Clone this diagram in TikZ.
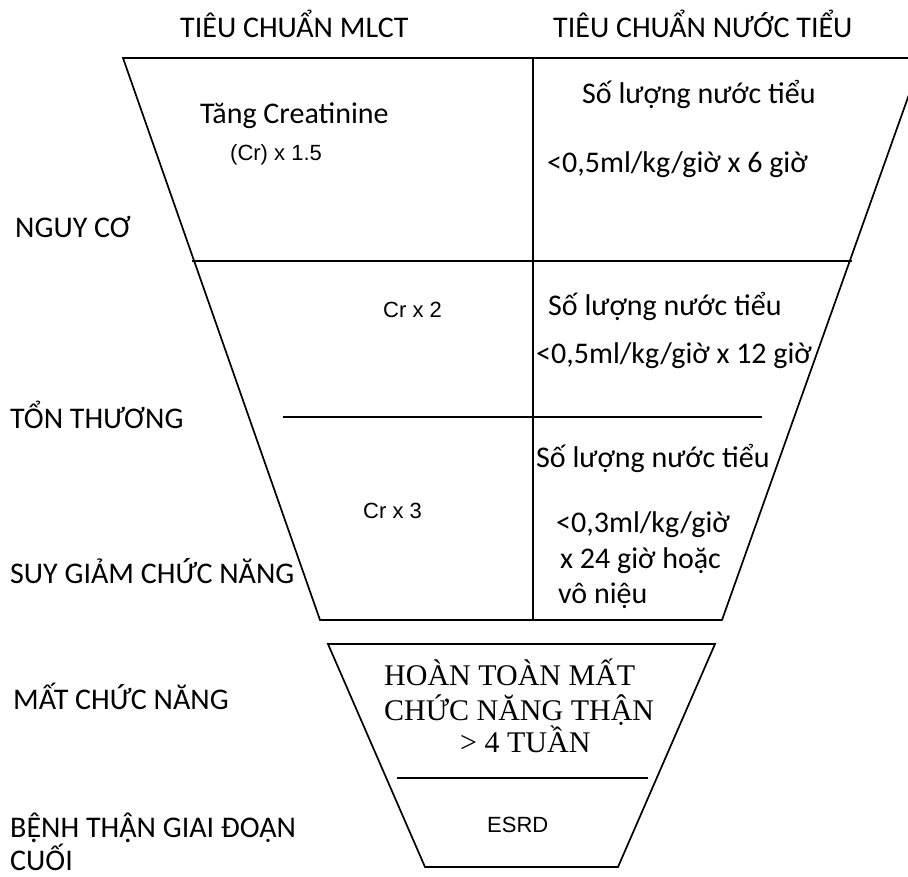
\documentclass[tikz,border=0pt]{standalone}
\usepackage{fontspec}
\setmainfont{Carlito}
\newfontfamily\arialfont{Liberation Sans}
\newfontfamily\timesfont{Liberation Serif}
\newcommand{\dotunder}[1]{\ooalign{#1\cr\hidewidth\raisebox{-0.17em}{.}\hidewidth\cr}}
\begin{document}
\begin{tikzpicture}[x=1pt,y=-1pt,
        txt/.style={anchor=base west,inner sep=0pt,font=\fontsize{30}{36}\selectfont},
        small/.style={anchor=base west,inner sep=0pt,font=\arialfont\fontsize{22}{26}\selectfont},
        serif/.style={anchor=base west,inner sep=0pt,font=\timesfont\fontsize{30}{36}\selectfont},
        edge/.style={line width=1.7pt,line join=miter}]
            \clip (0,0) rectangle (908,876);

            % headers and stage names
            \node[txt] (hMLCT) at (180,37) {TIÊU CHUẨN MLCT};
            \node[txt] (hUrine) at (553,37) {TIÊU CHUẨN NƯỚC TIỂU};
            \node[txt] (risk) at (15,237) {NGUY CƠ};
            \node[txt] (injury) at (10,428) {TỔN THƯƠNG};
            \node[txt] (failure) at (10,583) {SUY GIẢM CHỨC NĂNG};
            \node[txt] (loss) at (13,709) {MẤT CHỨC NĂNG};
            \node[txt] (esrdA) at (10,837) {B\dotunder{Ê}NH TH\dotunder{Â}N GIAI ĐOẠN};
            \node[txt] (esrdB) at (10,870) {CUỐI};

            % upper funnel
            \coordinate (tl) at (123,58);
            \coordinate (tr) at (922,58);
            \coordinate (br) at (722,620);
            \coordinate (bl) at (320,620);
            \draw[edge] (tl) -- (tr) -- (br) -- (bl) -- cycle;
            \draw[edge] (192,261) -- (852,261);
            \draw[edge] (283,417) -- (762,417);
            \draw[edge] (533,58) -- (533,620);

            \node[txt] (crRisk) at (200,123) {Tăng Creatinine};
            \node[small] (crRiskB) at (230,160) {(Cr) x 1.5};
            \node[txt] (urRisk) at (582,103) {Số lượng nước tiểu};
            \node[txt] (urRiskB) at (547,172) {<0,5ml/kg/giờ x 6 giờ};
            \node[small] (crInjury) at (383,317) {Cr x 2};
            \node[txt] (urInjury) at (548,315) {Số lượng nước tiểu};
            \node[txt] (urInjuryB) at (536,363) {<0,5ml/kg/giờ x 12 giờ};
            \node[small] (crFailure) at (363,518) {Cr x 3};
            \node[txt] (urFailure) at (536,467) {Số lượng nước tiểu};
            \node[txt] (urFailureB) at (556,532) {<0,3ml/kg/giờ};
            \node[txt] (urFailureC) at (560,568) {x 24 giờ hoặc};
            \node[txt] (urFailureD) at (558,603) {vô niệu};

            % lower funnel
            \coordinate (ltl) at (328,644);
            \coordinate (ltr) at (715,644);
            \coordinate (lbr) at (618,867);
            \coordinate (lbl) at (425,867);
            \draw[edge] (ltl) -- (ltr) -- (lbr) -- (lbl) -- cycle;
            \draw[edge] (397,778) -- (648,778);

            \node[serif] (lossA) at (384,685) {HOÀN TOÀN MẤT};
            \node[serif] (lossB) at (384,720) {CHỨC NĂNG THẬN};
            \node[serif] (lossC) at (460,752) {> 4 TUẦN};
            \node[small] (esrd) at (487,832) {ESRD};
        \end{tikzpicture}
\end{document}
